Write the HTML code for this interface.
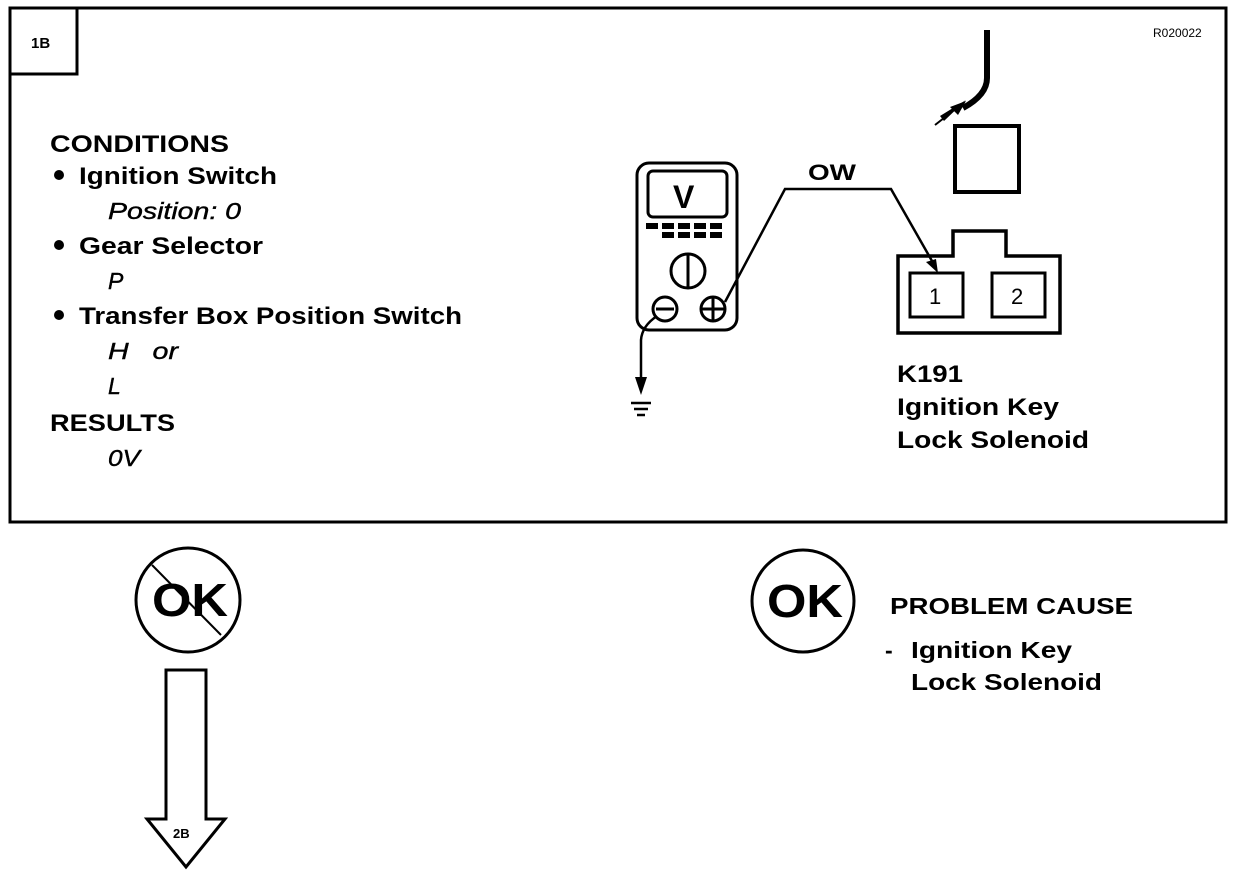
<!DOCTYPE html>
<html><head><meta charset="utf-8"><style>html,body{margin:0;padding:0;background:#fff}svg{display:block}</style></head>
<body>
<svg width="1248" height="876" viewBox="0 0 1248 876" xmlns="http://www.w3.org/2000/svg" font-family="Liberation Sans, Arial, sans-serif">
<rect width="1248" height="876" fill="#fff"/>
<g fill="none" stroke="#000">
<rect x="10" y="8" width="1216" height="514" stroke-width="3"/>
<rect x="10" y="8" width="67" height="66" stroke-width="3"/>
<rect x="637" y="163" width="100" height="167" rx="12" stroke-width="3"/>
<rect x="648" y="171" width="79" height="46" rx="5" stroke-width="3"/>
<circle cx="688" cy="271" r="17" stroke-width="3"/>
<line x1="688" y1="254" x2="688" y2="288" stroke-width="3"/>
<circle cx="665" cy="309" r="12" stroke-width="3"/>
<line x1="656" y1="309" x2="674" y2="309" stroke-width="3"/>
<circle cx="713" cy="309" r="12" stroke-width="3"/>
<line x1="701" y1="309" x2="725" y2="309" stroke-width="3"/>
<line x1="713" y1="297" x2="713" y2="321" stroke-width="3"/>
<polyline points="725,302 785,189 891,189 936,268" stroke-width="2.5"/>
<path d="M657,316 Q642,326 641,340 L641,382" stroke-width="2.5"/>
<line x1="631" y1="403" x2="651" y2="403" stroke-width="2.5"/>
<line x1="634" y1="409" x2="648" y2="409" stroke-width="2.5"/>
<line x1="637" y1="415" x2="645" y2="415" stroke-width="2.5"/>
<rect x="955" y="126" width="64" height="66" stroke-width="4"/>
<path d="M987,30 L987,78 Q987,95 963,108" stroke-width="6"/>
<line x1="935" y1="125" x2="958" y2="107" stroke-width="2"/>
<polygon points="898,256 953,256 953,231 1006,231 1006,256 1060,256 1060,333 898,333" stroke-width="3.5"/>
<rect x="910" y="273" width="53" height="44" stroke-width="3"/>
<rect x="992" y="273" width="53" height="44" stroke-width="3"/>
<circle cx="188" cy="600" r="52" stroke-width="3"/>
<line x1="152" y1="565" x2="221" y2="635" stroke-width="2"/>
<circle cx="803" cy="601" r="51" stroke-width="3"/>
<polygon points="166,670 206,670 206,819 225,819 186,867 147,819 166,819" stroke-width="3"/>
</g>
<g fill="#000">
<rect x="646" y="223" width="12" height="6"/><rect x="662" y="223" width="12" height="6"/><rect x="678" y="223" width="12" height="6"/><rect x="694" y="223" width="12" height="6"/><rect x="710" y="223" width="12" height="6"/>
<rect x="662" y="232" width="12" height="6"/><rect x="678" y="232" width="12" height="6"/><rect x="694" y="232" width="12" height="6"/><rect x="710" y="232" width="12" height="6"/>
<polygon points="641,395 635,377 647,377"/>
<polygon points="938,273 926,262 936,259"/>
<polygon points="966,101 950,107 958,115"/>
<polygon points="966,100 940,116 944,121"/>
<circle cx="59" cy="175" r="5"/><circle cx="59" cy="245" r="5"/><circle cx="59" cy="315" r="5"/>
</g>
<g font-weight="bold" fill="#000" lengthAdjust="spacingAndGlyphs">
<text x="31" y="48" font-size="15">1B</text>
<text x="1153" y="37" font-size="12" font-weight="normal">R020022</text>
<text x="50" y="152" font-size="24" textLength="179" lengthAdjust="spacingAndGlyphs">CONDITIONS</text>
<text x="79" y="184" font-size="24" textLength="198" lengthAdjust="spacingAndGlyphs">Ignition Switch</text>
<text x="79" y="254" font-size="24" textLength="184" lengthAdjust="spacingAndGlyphs">Gear Selector</text>
<text x="79" y="324" font-size="24" textLength="383" lengthAdjust="spacingAndGlyphs">Transfer Box Position Switch</text>
<text x="50" y="431" font-size="24" textLength="125" lengthAdjust="spacingAndGlyphs">RESULTS</text>
<text x="673" y="208" font-size="32">V</text>
<text x="808" y="180" font-size="22" textLength="48" lengthAdjust="spacingAndGlyphs">OW</text>
<text x="929" y="304" font-size="22" font-weight="normal">1</text>
<text x="1011" y="304" font-size="22" font-weight="normal">2</text>
<text x="897" y="382" font-size="24" textLength="66" lengthAdjust="spacingAndGlyphs">K191</text>
<text x="897" y="415" font-size="24" textLength="162" lengthAdjust="spacingAndGlyphs">Ignition Key</text>
<text x="897" y="448" font-size="24" textLength="192" lengthAdjust="spacingAndGlyphs">Lock Solenoid</text>
<text x="152" y="616" font-size="46" textLength="76" lengthAdjust="spacingAndGlyphs">OK</text>
<text x="767" y="617" font-size="46" textLength="76" lengthAdjust="spacingAndGlyphs">OK</text>
<text x="890" y="614" font-size="23" textLength="243" lengthAdjust="spacingAndGlyphs">PROBLEM CAUSE</text>
<text x="885" y="658" font-size="23">-</text>
<text x="911" y="658" font-size="23" textLength="161" lengthAdjust="spacingAndGlyphs">Ignition Key</text>
<text x="911" y="690" font-size="23" textLength="191" lengthAdjust="spacingAndGlyphs">Lock Solenoid</text>
<text x="173" y="838" font-size="13">2B</text>
</g>
<g font-style="italic" fill="#000" font-size="23" stroke="#000" stroke-width="0.4">
<text x="108" y="219" textLength="133" lengthAdjust="spacingAndGlyphs">Position: 0</text>
<text x="108" y="289">P</text>
<text x="108" y="359" textLength="70" lengthAdjust="spacingAndGlyphs">H &#160; or</text>
<text x="108" y="394">L</text>
<text x="108" y="466" textLength="32" lengthAdjust="spacingAndGlyphs">0V</text>
</g>
</svg>
</body></html>
